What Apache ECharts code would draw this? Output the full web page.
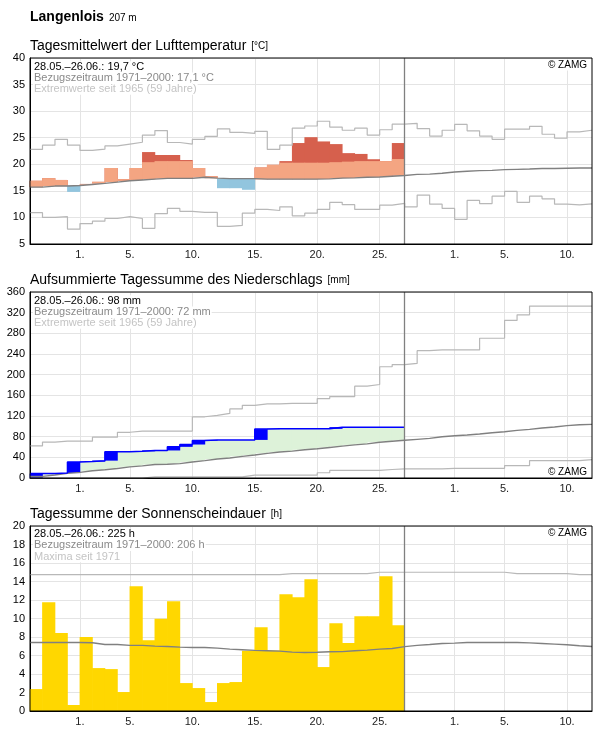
<!DOCTYPE html>
<html><head><meta charset="utf-8">
<script src="https://cdn.jsdelivr.net/npm/echarts@6/dist/echarts.min.js"></script>
<style>html,body{margin:0;padding:0;background:#fff}#c{width:596px;height:729px}</style>
</head><body><div id="c"></div>
<script>
// ---- categories (one per day) ----
const days = [
'28.05.','29.05.','30.05.','31.05.',
'01.06.','02.06.','03.06.','04.06.','05.06.','06.06.','07.06.','08.06.','09.06.','10.06.',
'11.06.','12.06.','13.06.','14.06.','15.06.','16.06.','17.06.','18.06.','19.06.','20.06.',
'21.06.','22.06.','23.06.','24.06.','25.06.','26.06.','27.06.','28.06.','29.06.','30.06.',
'01.07.','02.07.','03.07.','04.07.','05.07.','06.07.','07.07.','08.07.','09.07.','10.07.','11.07.'];
const dayBounds = days.concat(['12.07.']);
const tickDays = [1, 5, 10, 15, 20, 25];

// ---- temperature ----
const tempObs = [16.9,17.4,17.05,14.8,16.3,16.7,19.3,17.2,19.3,22.3,21.75,21.75,20.8,19.3,17.75,15.5,15.5,15.2,19.4,19.9,20.6,24.0,25.1,24.3,23.8,22.1,21.95,20.95,20.6,24.0];
const tempWarmLimit = [18.9,19.1,19.1,19.2,19.4,19.6,19.8,20.1,20.2,20.4,20.6,20.6,20.6,20.7,20.6,20.5,20.5,20.5,20.4,20.4,20.3,20.3,20.3,20.3,20.4,20.5,20.6,20.6,20.8,21.0];
const tempMean = [15.7,15.9,15.9,16.0,16.2,16.4,16.65,16.9,17.05,17.2,17.35,17.35,17.35,17.55,17.4,17.3,17.3,17.3,17.2,17.2,17.2,17.2,17.2,17.25,17.4,17.45,17.55,17.6,17.75,17.9,18.1,18.15,18.3,18.55,18.7,18.8,18.85,19.0,19.05,19.1,19.2,19.2,19.25,19.3,19.3];
const tempMax = [22.8,23.6,24.7,23.6,22.6,22.85,23.45,23.8,24.15,25.5,26.35,24.1,23.8,24.7,25.25,26.65,26.0,25.8,26.2,22.8,23.6,26.8,27.2,28.1,27.0,26.4,26.8,25.5,26.5,27.55,27.7,26.7,25.3,26.4,27.5,26.3,25.3,24.7,26.6,26.6,27.15,25.65,24.9,26.1,26.4];
const tempMin = [10.9,10.0,10.15,7.8,8.85,9.3,9.8,10.15,9.8,7.95,10.7,11.7,11.15,10.95,10.95,8.3,8.5,10.8,11.5,11.3,12.0,10.3,10.8,11.5,12.85,12.4,11.5,11.5,12.3,12.65,12.0,14.2,12.5,11.7,9.65,13.2,12.6,14.0,14.9,12.85,14.0,13.5,12.5,12.35,12.55];

// ---- precipitation (cumulative) ----
const precipCum = [8.5,8.8,9.5,31.0,31.8,33.6,50.8,50.8,51.6,53.3,53.3,60.3,64.8,72.4,73.7,73.7,73.7,73.7,94.6,95.2,95.2,95.2,95.2,95.2,98.4,98.4,98.4,98.4,98.4,98.4];
const precipMean = [3.2,5.7,8.9,10.8,14.0,15.9,18.4,21.6,23.5,26.0,26.7,27.9,31.1,33.7,36.8,38.7,41.9,44.5,47.6,50.2,52.1,54.6,56.5,59.1,61.6,64.1,66.0,69.2,71.1,73.0,74.8,76.6,79.8,81.8,83.1,85.1,87.7,89.6,92.2,94.1,96.7,98.7,101.3,103.2,103.8];
const precipMax = [62,69.5,71.2,71.2,71.2,79,79,88.5,90.8,90.8,90.8,90.8,90.8,118.5,121.3,125,133.6,140.7,143.3,143.3,144.6,144.6,144.6,153.7,157.6,157.6,177.7,181,215.3,219.5,221.8,246.5,247.8,247.8,247.8,247.8,270.5,270.5,304.9,315.9,332.7,332.7,332.7,332.7,332.7];
const precipMin = [0,0,0,0,0,0,0,0,0,2,2,2,2,2,2,2,2,5.7,5.7,5.7,5.7,5.7,5.7,10.2,14.6,14.6,14.6,14.6,16.5,17.5,17.5,17.5,17.5,18.8,18.8,18.8,18.8,18.8,24,24,33.7,33.7,33.7,33.7,35.7];

// ---- sunshine ----
const sunObs = [2.37,11.76,8.42,0.65,7.99,4.64,4.53,2.05,13.49,7.66,9.96,11.87,3.02,2.48,0.97,3.02,3.13,6.51,9.06,6.55,12.63,12.3,14.24,4.75,9.5,7.34,10.25,10.25,14.57,9.28];
const sunMean = [7.4,7.4,7.4,7.4,7.38,7.19,7.19,7.09,7.09,7.01,6.98,6.9,6.87,6.87,6.8,6.69,6.62,6.55,6.51,6.47,6.37,6.33,6.35,6.4,6.42,6.51,6.58,6.69,6.76,6.96,7.09,7.19,7.3,7.34,7.41,7.41,7.41,7.41,7.41,7.37,7.3,7.23,7.16,7.05,6.98];
const sunMax = [14.75,14.75,14.75,14.75,14.75,14.75,14.75,14.75,14.75,14.75,14.75,14.75,14.75,14.75,14.75,14.75,14.75,14.75,14.75,14.75,14.86,14.86,14.86,14.86,14.86,14.86,14.86,15.0,15.0,15.0,15.0,15.0,15.0,15.0,15.0,15.0,15.0,15.0,14.86,14.86,14.86,14.86,14.86,14.75,14.75];

// ---- texts ----
const mainTitle = ['Langenlois', '207 m'];
const panelTitles = [
  ['Tagesmittelwert der Lufttemperatur', '[°C]'],
  ['Aufsummierte Tagessumme des Niederschlags', '[mm]'],
  ['Tagessumme der Sonnenscheindauer', '[h]']
];
const panelStats = [
  ['28.05.–26.06.: 19,7 °C', 'Bezugszeitraum 1971–2000: 17,1 °C', 'Extremwerte seit 1965 (59 Jahre)'],
  ['28.05.–26.06.: 98 mm', 'Bezugszeitraum 1971–2000: 72 mm', 'Extremwerte seit 1965 (59 Jahre)'],
  ['28.05.–26.06.: 225 h', 'Bezugszeitraum 1971–2000: 206 h', 'Maxima seit 1971']
];
const copyright = '© ZAMG';

const FONT = '"Liberation Sans", Arial, sans-serif';
const GRID_LINE = '#e4e4e4';
const MEAN_C = '#808080';
const EXT_C = '#b8b8b8';

const stepData = a => a.concat([a[a.length - 1]]);
const isTick = v => tickDays.indexOf(parseInt(v, 10)) >= 0;

const grids = [
  {top: 58, height: 186},
  {top: 292, height: 186},
  {top: 526, height: 185}
];
const yDefs = [
  {min: 5, max: 40, interval: 5},
  {min: 0, max: 360, interval: 40},
  {min: 0, max: 20, interval: 2}
];

const option = {
  animation: false,
  backgroundColor: '#fff',
  textStyle: {fontFamily: FONT},
  grid: grids.map(g => ({left: 30, right: 4, top: g.top, height: g.height, show: true,
    backgroundColor: 'transparent', borderColor: '#000', borderWidth: 1, z: 100, outerBoundsMode: 'none'})),
  xAxis: [],
  yAxis: [],
  title: [],
  series: []
};

grids.forEach((g, gi) => {
  option.xAxis.push({
    type: 'category', gridIndex: gi, data: dayBounds, boundaryGap: false,
    axisLine: {show: true, lineStyle: {color: '#000', width: 1}},
    axisTick: {show: false},
    axisLabel: {interval: 0, margin: 5, color: '#222', fontSize: 11, fontFamily: FONT,
      formatter: v => isTick(v) ? parseInt(v, 10) + '.' : ''},
    splitLine: {show: true, interval: (i, v) => isTick(v), lineStyle: {color: GRID_LINE, width: 1}}
  });
  option.yAxis.push(Object.assign({
    type: 'value', gridIndex: gi,
    axisLine: {show: true, lineStyle: {color: '#000'}},
    axisTick: {show: false},
    axisLabel: {color: '#000', fontSize: 11, margin: 5, fontFamily: FONT},
    splitLine: {show: true, lineStyle: {color: GRID_LINE, width: 1}}
  }, yDefs[gi]));
});

// daily columns: [dayIndex, low, high] spanning from boundary dayIndex to dayIndex+1
function columns(gi, items, color) {
  return {
    type: 'custom', xAxisIndex: gi, yAxisIndex: gi, silent: true, z: 2,
    data: items.filter(d => d[2] > d[1]),
    encode: {x: 0, y: [1, 2]},
    renderItem: function (params, api) {
      const i = api.value(0);
      const pTop = api.coord([i, api.value(2)]);
      const pBot = api.coord([i + 1, api.value(1)]);
      return {type: 'rect',
        shape: {x: pTop[0] - 0.35, y: pTop[1], width: pBot[0] - pTop[0] + 0.7, height: pBot[1] - pTop[1]},
        style: {fill: color}};
    }
  };
}
function stepLine(gi, data, color, width, extra) {
  return Object.assign({type: 'line', xAxisIndex: gi, yAxisIndex: gi, data: stepData(data), step: 'end',
    symbol: 'none', silent: true, lineStyle: {color: color, width: width}, z: 3}, extra || {});
}
function nowLine(n) {
  return {silent: true, symbol: ['none', 'none'], label: {show: false}, animation: false,
    lineStyle: {color: MEAN_C, width: 1.3, type: 'solid'}, data: [{xAxis: n}]};
}

// temperature panel
option.series.push(
  columns(0, tempObs.map((v, i) => [i, tempMean[i], v]), '#d6604d'),
  columns(0, tempObs.map((v, i) => [i, tempMean[i], Math.min(v, tempWarmLimit[i])]), '#f4a582'),
  columns(0, tempObs.map((v, i) => [i, v, tempMean[i]]), '#92c5de'),
  stepLine(0, tempMax, EXT_C, 1.2),
  stepLine(0, tempMin, EXT_C, 1.2),
  stepLine(0, tempMean, MEAN_C, 1.4, {markLine: nowLine(tempObs.length)})
);

// precipitation panel
const prev = precipCum.map((v, i) => i ? precipCum[i - 1] : 0);
option.series.push(
  columns(1, precipCum.map((v, i) => [i, precipMean[i], v]), '#ddf2d9'),
  columns(1, precipCum.map((v, i) => [i, prev[i], v]), '#0000ff'),
  stepLine(1, precipMax, EXT_C, 1.2),
  stepLine(1, precipMin, EXT_C, 1.2),
  stepLine(1, precipMean, MEAN_C, 1.4, {markLine: nowLine(precipCum.length)}),
  stepLine(1, precipCum, '#0000ff', 1.5, {z: 4})
);

// sunshine panel
option.series.push(
  columns(2, sunObs.map((v, i) => [i, 0, v]), '#ffd700'),
  stepLine(2, sunMax, EXT_C, 1.2),
  stepLine(2, sunMean, MEAN_C, 1.4, {markLine: nowLine(sunObs.length)})
);

// texts
const rs = (size, color, extra) => Object.assign({fontFamily: FONT, fontSize: size, color: color, fontWeight: 'normal'}, extra || {});
option.title.push({
  left: 30, top: 8, padding: 0,
  text: '{b|' + mainTitle[0] + '} {s|' + mainTitle[1] + '}',
  textStyle: {fontWeight: 'normal', rich: {
    b: rs(14, '#000', {fontWeight: 'bold', lineHeight: 16}),
    s: rs(10, '#000', {lineHeight: 16, padding: [3, 0, 0, 0]})
  }}
});
const titleTops = [37, 271, 505];
const statTops = [61, 295, 528.5];
const zamgTops = [60.5, 467.5, 528.7];
const bg = {backgroundColor: '#fff', padding: [0, 1], lineHeight: 11.3};
panelTitles.forEach((t, i) => {
  option.title.push({
    left: 30, top: titleTops[i], padding: 0,
    text: '{t|' + t[0] + '} {u|' + t[1] + '}',
    textStyle: {fontWeight: 'normal', rich: {
      t: rs(14, '#000', {lineHeight: 15}),
      u: rs(10, '#000', {lineHeight: 15})
    }}
  });
  const s = panelStats[i];
  option.title.push({
    left: 33, top: statTops[i], padding: 0, z: 20,
    text: '{a|' + s[0] + '}\n{b|' + s[1] + '}\n{c|' + s[2] + '}',
    textStyle: {fontWeight: 'normal', rich: {
      a: rs(11, '#000', bg),
      b: rs(11, '#8a8a8a', bg),
      c: rs(11, '#c4c4c4', bg)
    }}
  });
  option.title.push({
    right: 8, top: zamgTops[i], padding: 0, z: 20,
    text: '{z|' + copyright + '}',
    textStyle: {fontWeight: 'normal', rich: {z: rs(10, '#000', {lineHeight: 10, backgroundColor: '#fff', padding: [0, 1]})}}
  });
});

const chart = echarts.init(document.getElementById('c'), null, {renderer: 'canvas'});
chart.setOption(option);
</script>
</body></html>
